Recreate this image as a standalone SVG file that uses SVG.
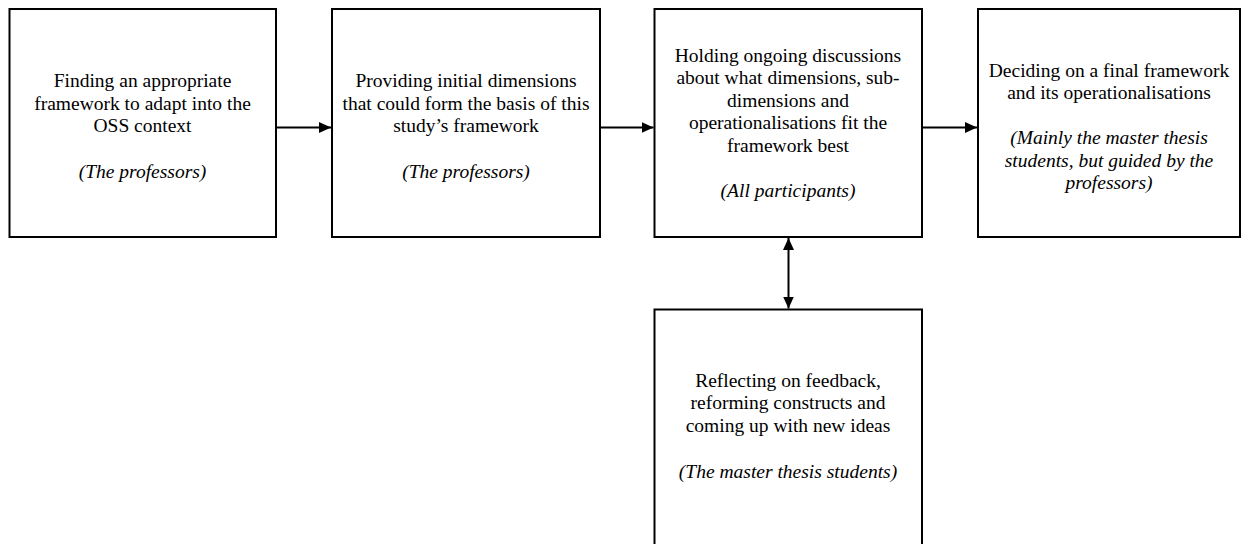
<svg xmlns="http://www.w3.org/2000/svg" width="1241" height="544" viewBox="0 0 1241 544">
<defs>
<style>
.box{fill:#fff;stroke:#000;stroke-width:2}
.t{font-size:19.5px;fill:#000;text-anchor:middle}
.i{font-style:italic}
.c{stroke:#000;stroke-width:2;fill:none}
</style>
<marker id="ah" viewBox="0 0 12 11" refX="12" refY="5.5" markerWidth="12" markerHeight="11" markerUnits="userSpaceOnUse" orient="auto-start-reverse">
<path d="M0,0 L12,5.5 L0,11 Z" fill="#000"/>
</marker>
</defs>
<rect width="1241" height="544" fill="#fff"/>
<g font-family="Liberation Serif, Times New Roman, DejaVu Serif, serif">
<g id="n1">
<rect class="box" x="9.5" y="9" width="266.5" height="228"/>
<text class="t" x="142.5" y="87">Finding an appropriate</text>
<text class="t" x="142.5" y="109.5">framework to adapt into the</text>
<text class="t" x="142.5" y="132">OSS context</text>
<text class="t i" x="142.5" y="178">(The professors)</text>
</g>
<g id="n2">
<rect class="box" x="332" y="9" width="268" height="228"/>
<text class="t" x="466" y="87">Providing initial dimensions</text>
<text class="t" x="466" y="109.5">that could form the basis of this</text>
<text class="t" x="466" y="132">study’s framework</text>
<text class="t i" x="466" y="178">(The professors)</text>
</g>
<g id="n3">
<rect class="box" x="654.5" y="9" width="267.5" height="228"/>
<text class="t" x="788" y="61.5">Holding ongoing discussions</text>
<text class="t" x="788" y="84">about what dimensions, sub-</text>
<text class="t" x="788" y="106.5">dimensions and</text>
<text class="t" x="788" y="129">operationalisations fit the</text>
<text class="t" x="788" y="151.5">framework best</text>
<text class="t i" x="788" y="197">(All participants)</text>
</g>
<g id="n4">
<rect class="box" x="978" y="9" width="262" height="228"/>
<text class="t" x="1109" y="76.5">Deciding on a final framework</text>
<text class="t" x="1109" y="99">and its operationalisations</text>
<text class="t i" x="1109" y="144">(Mainly the master thesis</text>
<text class="t i" x="1109" y="166.5">students, but guided by the</text>
<text class="t i" x="1109" y="189">professors)</text>
</g>
<g id="n5">
<rect class="box" x="654.5" y="309.5" width="267.5" height="260"/>
<text class="t" x="788" y="386.5">Reflecting on feedback,</text>
<text class="t" x="788" y="409">reforming constructs and</text>
<text class="t" x="788" y="431.5">coming up with new ideas</text>
<text class="t i" x="788" y="478">(The master thesis students)</text>
</g>
</g>
<g id="connectors">
<line class="c" x1="276" y1="127.5" x2="331" y2="127.5" marker-end="url(#ah)"/>
<line class="c" x1="600" y1="127.5" x2="653.5" y2="127.5" marker-end="url(#ah)"/>
<line class="c" x1="922" y1="127.5" x2="977" y2="127.5" marker-end="url(#ah)"/>
<line class="c" x1="788.5" y1="238" x2="788.5" y2="308.5" marker-start="url(#ah)" marker-end="url(#ah)"/>
</g>
</svg>
